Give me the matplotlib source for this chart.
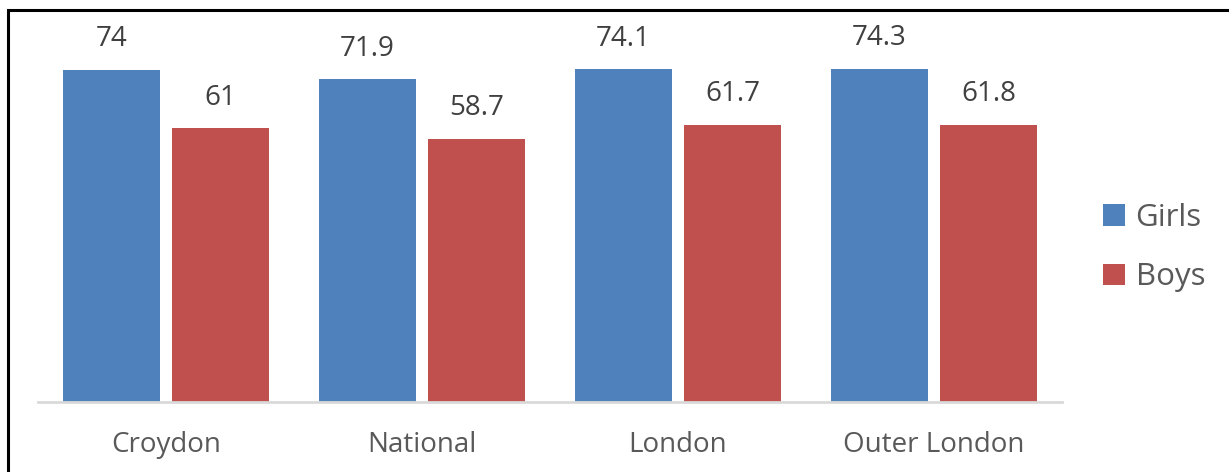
import matplotlib.pyplot as plt
from matplotlib.patches import Rectangle
import numpy as np

categories = ["Croydon", "National", "London", "Outer London"]
girls = [74, 71.9, 74.1, 74.3]
boys = [61, 58.7, 61.7, 61.8]
girls_labels = ["74", "71.9", "74.1", "74.3"]
boys_labels = ["61", "58.7", "61.7", "61.8"]

plt.rcParams['font.family'] = ['Open Sans', 'DejaVu Sans']

fig = plt.figure(figsize=(12.29, 4.72), dpi=100)
ax = fig.add_axes([38 / 1229, 1 - 402 / 472, (1062 - 38) / 1229, 359 / 472])

x = np.arange(len(categories))
width = 0.38
offset = 0.213
b1 = ax.bar(x - offset, girls, width, color="#4f81bd", label="Girls")
b2 = ax.bar(x + offset, boys, width, color="#c0504d", label="Boys")

for bars, labels in ((b1, girls_labels), (b2, boys_labels)):
    for bar, lab in zip(bars, labels):
        ax.annotate(lab, (bar.get_x() + bar.get_width() / 2, bar.get_height()),
                    xytext=(0, 12), textcoords="offset points",
                    ha="center", va="bottom", fontsize=20, color="#404040")

ax.set_xlim(-0.5, 3.5)
ax.set_ylim(0, 80)
ax.set_yticks([])
ax.set_xticks(x)
ax.set_xticklabels(categories, fontsize=20, color="#595959")
ax.tick_params(axis="x", length=0, pad=21)
for s in ["top", "right", "left"]:
    ax.spines[s].set_visible(False)
ax.spines["bottom"].set_color("#d9d9d9")
ax.spines["bottom"].set_linewidth(2)

ax.legend(loc="center left", bbox_to_anchor=(1.013, 0.43), frameon=False,
          fontsize=22.5, labelcolor="#595959", handlelength=0.68, handleheight=0.68,
          handletextpad=0.35, labelspacing=0.95)

# outer border (only top and left visible)
fig.patches.append(Rectangle((8 / 1229, -0.1), 1.2, 0.1 + 1 - 10 / 472,
                             transform=fig.transFigure, fill=False,
                             edgecolor="black", linewidth=2.2))

fig.savefig("out.png", dpi=100, facecolor="white")
